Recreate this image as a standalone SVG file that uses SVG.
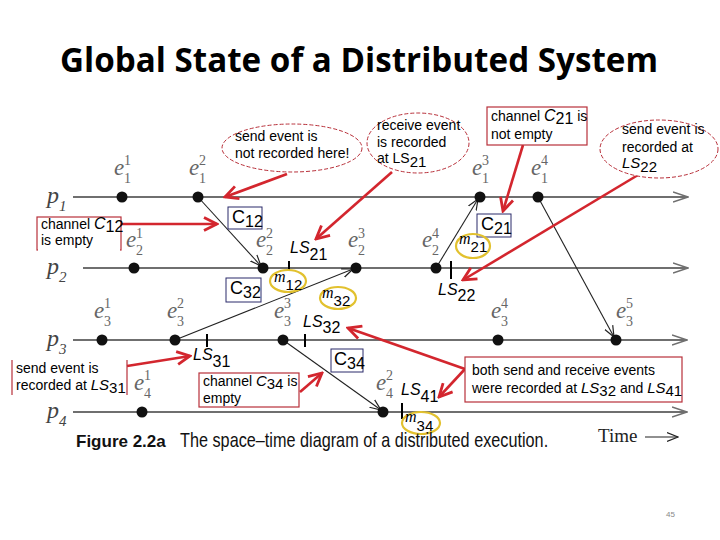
<svg xmlns="http://www.w3.org/2000/svg" width="720" height="540" viewBox="0 0 720 540">
<defs>
<style>
.title{font-family:"Open Sans","Liberation Sans",sans-serif;font-weight:bold;font-size:34px;fill:#000}
.proc{stroke:#6f6f6f;stroke-width:1.8;fill:none}
.p{font-family:"Liberation Serif",serif;font-style:italic;font-size:24px;fill:#444}
.ps{font-family:"Liberation Serif",serif;font-size:15px;fill:#444}
.dot{fill:#111}
.e{font-family:"Liberation Serif",serif;font-style:italic;font-size:23px;fill:#666}
.idx{font-family:"Liberation Serif",serif;font-size:14px;fill:#666}
.msg{stroke:#222;stroke-width:1.1;fill:none}
.tick{stroke:#000;stroke-width:2}
.ls{font-family:"Liberation Sans",sans-serif;font-size:16px;fill:#000}
.ch{fill:#fff;stroke:#2a2a6a;stroke-width:1}
.chl{font-family:"Liberation Sans",sans-serif;font-size:18px;fill:#000}
.hl{fill:none;stroke:#e2c12e;stroke-width:2.2}
.m{font-family:"Liberation Serif",serif;font-style:italic;font-size:16px;fill:#000}
.ms{font-family:"Liberation Sans",sans-serif;font-style:normal;font-size:15px}
.rbox{fill:#fff;stroke:#b8303a;stroke-width:1.2}
.rline{stroke:#b8303a;stroke-width:1.2}
.dash{fill:#fff;stroke:#b8303a;stroke-width:1;stroke-dasharray:4 2}
.note{font-family:"Liberation Sans",sans-serif;font-size:14px;fill:#000}
.ra{stroke:#d3262e;stroke-width:2.6;fill:none}
.cap{font-family:"Liberation Sans",sans-serif;font-weight:bold;font-size:17px;fill:#111}
.cap2{font-family:"Liberation Sans",sans-serif;font-size:20px;fill:#111}
.time{font-family:"Liberation Serif",serif;font-size:19px;fill:#222}
</style>
<marker id="ah" viewBox="0 0 12 12" refX="11" refY="6" markerWidth="12" markerHeight="12" markerUnits="userSpaceOnUse" orient="auto"><path d="M0,1.5 L11,6 L0,10.5" fill="none" stroke="#222" stroke-width="1.2"/></marker>
<marker id="ahp" viewBox="0 0 16 12" refX="15" refY="6" markerWidth="16" markerHeight="12" markerUnits="userSpaceOnUse" orient="auto"><path d="M0,1 L15,6 L0,11" fill="none" stroke="#6f6f6f" stroke-width="1.6"/></marker>
<marker id="ahr" viewBox="0 0 16 16" refX="14" refY="8" markerWidth="16" markerHeight="16" markerUnits="userSpaceOnUse" orient="auto"><path d="M1,1.5 L14,8 L1,14.5" fill="none" stroke="#d3262e" stroke-width="2.8"/></marker>
</defs>
<rect width="720" height="540" fill="#fff"/>
<text class="title" x="60" y="72" textLength="598" lengthAdjust="spacingAndGlyphs">Global State of a Distributed System</text>

<g id="processes">
<line class="proc" x1="73" y1="197" x2="688" y2="197" marker-end="url(#ahp)"/>
<line class="proc" x1="83" y1="268" x2="688" y2="268" marker-end="url(#ahp)"/>
<line class="proc" x1="73" y1="340" x2="687" y2="340" marker-end="url(#ahp)"/>
<line class="proc" x1="73" y1="412" x2="687" y2="412" marker-end="url(#ahp)"/>
<text class="p" x="47" y="203">p<tspan class="ps" dy="8">1</tspan></text>
<text class="p" x="47" y="274">p<tspan class="ps" dy="8">2</tspan></text>
<text class="p" x="47" y="346">p<tspan class="ps" dy="8">3</tspan></text>
<text class="p" x="47" y="418">p<tspan class="ps" dy="8">4</tspan></text>
</g>

<g id="connectors">
<line class="msg" x1="198" y1="197" x2="261" y2="266" marker-end="url(#ah)"/>
<line class="msg" x1="436" y1="268" x2="478" y2="199" marker-end="url(#ah)"/>
<line class="msg" x1="175" y1="340" x2="353" y2="269" marker-end="url(#ah)"/>
<line class="msg" x1="283" y1="340" x2="381" y2="410" marker-end="url(#ah)"/>
<line class="msg" x1="538" y1="197" x2="614" y2="337" marker-end="url(#ah)"/>
<line class="ra" x1="121" y1="224" x2="217" y2="224" marker-end="url(#ahr)"/>
<line class="ra" x1="287" y1="174" x2="225" y2="197" marker-end="url(#ahr)"/>
<line class="ra" x1="392" y1="172" x2="316" y2="239" marker-end="url(#ahr)"/>
<line class="ra" x1="523" y1="145" x2="503" y2="211" marker-end="url(#ahr)"/>
<line class="ra" x1="638" y1="175" x2="463" y2="280" marker-end="url(#ahr)"/>
<line class="ra" x1="127" y1="366" x2="190" y2="356" marker-end="url(#ahr)"/>
<line class="ra" x1="300" y1="392" x2="322" y2="373" marker-end="url(#ahr)"/>
<line class="ra" x1="465" y1="369" x2="348" y2="328" marker-end="url(#ahr)"/>
<line class="ra" x1="465" y1="369" x2="439" y2="397" marker-end="url(#ahr)"/>
</g>

<g id="e11"><circle class="dot" cx="122" cy="197" r="5.5"/><text class="e" x="114" y="175">e</text><text class="idx" x="124" y="165">1</text><text class="idx" x="124" y="183">1</text></g>
<g id="e12"><circle class="dot" cx="198" cy="197" r="5.5"/><text class="e" x="189" y="175">e</text><text class="idx" x="199" y="165">2</text><text class="idx" x="199" y="183">1</text></g>
<g id="e13"><circle class="dot" cx="480" cy="197" r="5.5"/><text class="e" x="472" y="175">e</text><text class="idx" x="482" y="165">3</text><text class="idx" x="482" y="183">1</text></g>
<g id="e14"><circle class="dot" cx="538" cy="197" r="5.5"/><text class="e" x="531" y="175">e</text><text class="idx" x="541" y="165">4</text><text class="idx" x="541" y="183">1</text></g>

<g id="e21"><circle class="dot" cx="134" cy="268" r="5.5"/><text class="e" x="126" y="247">e</text><text class="idx" x="136" y="238">1</text><text class="idx" x="136" y="255">2</text></g>
<g id="e22"><circle class="dot" cx="263" cy="268" r="5.5"/><text class="e" x="256" y="247">e</text><text class="idx" x="266" y="238">2</text><text class="idx" x="266" y="255">2</text></g>
<g id="e23"><circle class="dot" cx="356" cy="268" r="5.5"/><text class="e" x="348" y="247">e</text><text class="idx" x="358" y="238">3</text><text class="idx" x="358" y="255">2</text></g>
<g id="e24"><circle class="dot" cx="436" cy="268" r="5.5"/><text class="e" x="422" y="247">e</text><text class="idx" x="432" y="238">4</text><text class="idx" x="432" y="255">2</text></g>

<g id="e31"><circle class="dot" cx="102" cy="340" r="5.5"/><text class="e" x="94" y="318">e</text><text class="idx" x="104" y="308">1</text><text class="idx" x="104" y="326">3</text></g>
<g id="e32"><circle class="dot" cx="175" cy="340" r="5.5"/><text class="e" x="167" y="318">e</text><text class="idx" x="177" y="308">2</text><text class="idx" x="177" y="326">3</text></g>
<g id="e33"><circle class="dot" cx="283" cy="340" r="5.5"/><text class="e" x="274" y="318">e</text><text class="idx" x="284" y="308">3</text><text class="idx" x="284" y="326">3</text></g>
<g id="e34"><circle class="dot" cx="498" cy="340" r="5.5"/><text class="e" x="491" y="318">e</text><text class="idx" x="501" y="308">4</text><text class="idx" x="501" y="326">3</text></g>
<g id="e35"><circle class="dot" cx="616" cy="340" r="5.5"/><text class="e" x="616" y="318">e</text><text class="idx" x="626" y="308">5</text><text class="idx" x="626" y="326">3</text></g>

<g id="e41"><circle class="dot" cx="142" cy="412" r="5.5"/><text class="e" x="134" y="390">e</text><text class="idx" x="144" y="380">1</text><text class="idx" x="144" y="398">4</text></g>
<g id="e42"><circle class="dot" cx="383" cy="412" r="5.5"/><text class="e" x="376" y="390">e</text><text class="idx" x="386" y="380">2</text><text class="idx" x="386" y="398">4</text></g>

<g id="cuts">
<line class="tick" x1="289" y1="261" x2="289" y2="270"/>
<line class="tick" x1="451" y1="261" x2="451" y2="279"/>
<line class="tick" x1="207" y1="334" x2="207" y2="347"/>
<line class="tick" x1="305" y1="334" x2="305" y2="347"/>
<line class="tick" x1="402" y1="403" x2="402" y2="419"/>
<text class="ls" x="290" y="253"><tspan font-style="italic">LS</tspan><tspan dy="7">21</tspan></text>
<text class="ls" x="438" y="295"><tspan font-style="italic">LS</tspan><tspan dy="6">22</tspan></text>
<text class="ls" x="193" y="360"><tspan font-style="italic">LS</tspan><tspan dy="7">31</tspan></text>
<text class="ls" x="303" y="327"><tspan font-style="italic">LS</tspan><tspan dy="6">32</tspan></text>
<text class="ls" x="401" y="395"><tspan font-style="italic">LS</tspan><tspan dy="7">41</tspan></text>
</g>

<g id="c12"><rect class="ch" x="228" y="207" width="34" height="22"/><text class="chl" x="232" y="223">C<tspan font-size="16" dy="4">12</tspan></text></g>
<g id="c32"><rect class="ch" x="226" y="278" width="35" height="24"/><text class="chl" x="230" y="294">C<tspan font-size="16" dy="4">32</tspan></text></g>
<g id="c34"><rect class="ch" x="331" y="349" width="32" height="23"/><text class="chl" x="334" y="365">C<tspan font-size="16" dy="4">34</tspan></text></g>
<g id="c21"><rect class="ch" x="477" y="214" width="34" height="23"/><text class="chl" x="481" y="230">C<tspan font-size="16" dy="4">21</tspan></text></g>

<g id="m12"><ellipse class="hl" cx="288" cy="281" rx="18" ry="11"/><text class="m" x="274" y="282">m<tspan class="ms" dy="8">12</tspan></text></g>
<g id="m32"><ellipse class="hl" cx="338" cy="298" rx="18" ry="11"/><text class="m" x="322" y="298">m<tspan class="ms" dy="8">32</tspan></text></g>
<g id="m21"><ellipse class="hl" cx="473" cy="246" rx="17" ry="12"/><text class="m" x="459" y="244">m<tspan class="ms" dy="8">21</tspan></text></g>
<g id="m34"><ellipse class="hl" cx="421" cy="423" rx="19" ry="11"/><text class="m" x="405" y="422">m<tspan class="ms" dy="9">34</tspan></text></g>

<g id="note-c12-empty"><rect class="rbox" x="37" y="217" width="84" height="33"/><rect x="38" y="247" width="82" height="4" fill="#fff"/><text class="note" x="41" y="229">channel <tspan font-style="italic" font-size="16">C</tspan><tspan font-size="16" dy="3">12</tspan></text><text class="note" x="41" y="245">is empty</text></g>
<g id="note-send-not-recorded"><ellipse class="dash" cx="292" cy="148" rx="70" ry="24"/><text class="note" x="235" y="141">send event is</text><text class="note" x="235" y="158">not recorded here!</text></g>
<g id="note-receive-recorded"><ellipse class="dash" cx="418" cy="143" rx="51" ry="30"/><text class="note" x="377" y="130">receive event</text><text class="note" x="377" y="147">is recorded</text><text class="note" x="377" y="163">at LS<tspan dy="4" font-size="15">21</tspan></text></g>
<g id="note-c21-not-empty"><rect class="rbox" x="487" y="107" width="100" height="38"/><text class="note" x="491" y="121">channel <tspan font-style="italic" font-size="16">C</tspan><tspan font-size="16" dy="3">21</tspan><tspan dy="-3"> is</tspan></text><text class="note" x="491" y="139">not empty</text></g>
<g id="note-send-ls22"><ellipse class="dash" cx="659" cy="149" rx="59" ry="29"/><text class="note" x="622" y="134">send event is</text><text class="note" x="622" y="152">recorded at</text><text class="note" x="622" y="168"><tspan font-style="italic" font-size="15">LS</tspan><tspan font-size="15" dy="4">22</tspan></text></g>
<g id="note-send-ls31"><line class="rline" x1="12" y1="360" x2="12" y2="395"/><line class="rline" x1="127" y1="360" x2="127" y2="395"/><text class="note" x="16" y="373">send event is</text><text class="note" x="16" y="390">recorded at <tspan font-style="italic" font-size="15">LS</tspan><tspan font-size="15" dy="3">31</tspan></text></g>
<g id="note-c34-empty"><rect class="rbox" x="199" y="373" width="100" height="34"/><text class="note" x="203" y="386">channel <tspan font-style="italic" font-size="15">C</tspan><tspan font-size="15" dy="3">34</tspan><tspan dy="-3"> is</tspan></text><text class="note" x="203" y="403">empty</text></g>
<g id="note-both-recorded"><rect class="rbox" x="465" y="357" width="217" height="45"/><text class="note" x="472" y="375">both send and receive events</text><text class="note" x="472" y="393">were recorded at <tspan font-style="italic" font-size="15">LS</tspan><tspan font-size="15" dy="3">32</tspan><tspan dy="-3"> and </tspan><tspan font-style="italic" font-size="15">LS</tspan><tspan font-size="15" dy="3">41</tspan></text></g>

<g id="caption">
<text class="cap" x="76" y="447">Figure 2.2a</text>
<text class="cap2" transform="matrix(0.78 0 0 1 180 447)" x="0" y="0" textLength="472" lengthAdjust="spacingAndGlyphs">The space–time diagram of a distributed execution.</text>
<text class="time" x="598" y="442">Time</text>
<line x1="645" y1="437" x2="678" y2="437" stroke="#222" stroke-width="1.2" marker-end="url(#ah)"/>
</g>
<text x="666" y="517" font-family="Liberation Sans,sans-serif" font-size="8" fill="#888">45</text>
</svg>
